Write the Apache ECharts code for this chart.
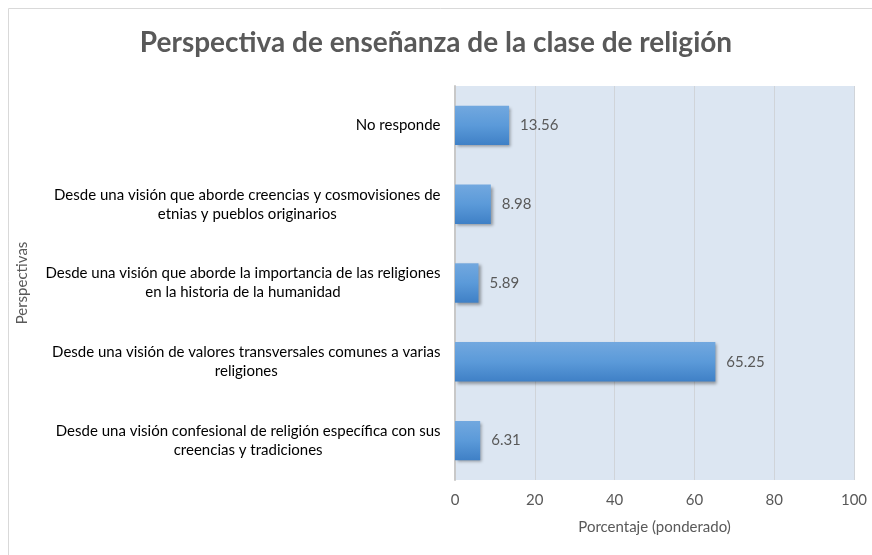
<!DOCTYPE html>
<html>
<head>
<meta charset="utf-8">
<script src="https://cdn.jsdelivr.net/npm/echarts@6/dist/echarts.min.js"></script>
<style>
  html, body { margin: 0; padding: 0; background: #fff; }
  #chart { width: 872px; height: 555px; }
</style>
</head>
<body>
<div id="chart"></div>
<script>
// categories listed top to bottom as in the picture
const categories = [
  "No responde",
  "Desde una visión que aborde creencias y cosmovisiones de\netnias y pueblos originarios",
  "Desde una visión que aborde la importancia de las religiones\nen la historia de la humanidad",
  "Desde una visión de valores transversales comunes a varias\nreligiones",
  "Desde una visión confesional de religión específica con sus\ncreencias y tradiciones"
];
const values = [13.56, 8.98, 5.89, 65.25, 6.31];
const xTicks = [0, 20, 40, 60, 80, 100];

const FONT = "Lato";
const LABEL_SIZE = 15;

// measure the widest line of a label so lines can be centered inside a right-aligned block
const ctx = document.createElement("canvas").getContext("2d");
ctx.font = LABEL_SIZE + "px " + FONT;
function blockWidth(text) {
  return Math.max(...text.split("\n").map((l) => ctx.measureText(l).width)) + 1;
}

// each label is a block as wide as its longest line, with its lines centered
const rich = {};
const formatted = {};
categories.forEach((c, i) => {
  rich["l" + i] = {
    width: blockWidth(c),
    align: "center",
    fontSize: LABEL_SIZE,
    lineHeight: 19,
    color: "#000",
    fontFamily: FONT
  };
  formatted[c] = c.split("\n").map((l) => "{l" + i + "|" + l + "}").join("\n");
});

const chart = echarts.init(document.getElementById("chart"));

chart.setOption({
  animation: false,
  textStyle: { fontFamily: FONT },
  title: {
    text: "Perspectiva de enseñanza de la clase de religión",
    left: "center",
    top: 24,
    textStyle: { fontSize: 28, fontWeight: "bold", color: "#595959", fontFamily: FONT }
  },
  graphic: [
    {
      type: "polyline",
      shape: { points: [[8.5, 555], [8.5, 8.5], [872, 8.5]] },
      style: { fill: null, stroke: "#d9d9d9", lineWidth: 1 },
      silent: true
    }
  ],
  grid: {
    left: 455,
    right: 18,
    top: 86,
    bottom: 75,
    show: true,
    backgroundColor: "#dce6f2",
    borderWidth: 0
  },
  xAxis: {
    type: "value",
    min: xTicks[0],
    max: xTicks[xTicks.length - 1],
    interval: xTicks[1] - xTicks[0],
    name: "Porcentaje (ponderado)",
    nameLocation: "middle",
    nameGap: 40,
    nameTextStyle: { color: "#595959", fontSize: 15 },
    axisLine: { show: false },
    axisTick: { show: false },
    axisLabel: { color: "#595959", fontSize: 15, margin: 13 },
    splitLine: { lineStyle: { color: "#d0d4d9", width: 1 } }
  },
  yAxis: {
    type: "category",
    inverse: true,
    data: categories,
    name: "Perspectivas",
    nameLocation: "middle",
    nameGap: 425,
    nameRotate: 90,
    nameTextStyle: { color: "#595959", fontSize: 15 },
    axisLine: { show: true, lineStyle: { color: "#c8c8c8", width: 2 } },
    axisTick: { show: false },
    axisLabel: {
      fontSize: LABEL_SIZE,
      margin: 14,
      align: "right",
      formatter: (val) => formatted[val],
      rich: rich
    }
  },
  series: [
    {
      type: "bar",
      data: values,
      barWidth: "50%",
      itemStyle: {
        color: new echarts.graphic.LinearGradient(0, 0, 0, 1, [
          { offset: 0, color: "#72a8df" },
          { offset: 0.5, color: "#5b9ad9" },
          { offset: 1, color: "#3f80c6" }
        ]),
        shadowColor: "rgba(0,0,0,0.35)",
        shadowBlur: 3,
        shadowOffsetX: 2,
        shadowOffsetY: 2
      },
      label: {
        show: true,
        position: "right",
        distance: 11,
        color: "#595959",
        fontSize: 15,
        formatter: (p) => p.value.toFixed(2)
      }
    }
  ]
});
</script>
</body>
</html>
